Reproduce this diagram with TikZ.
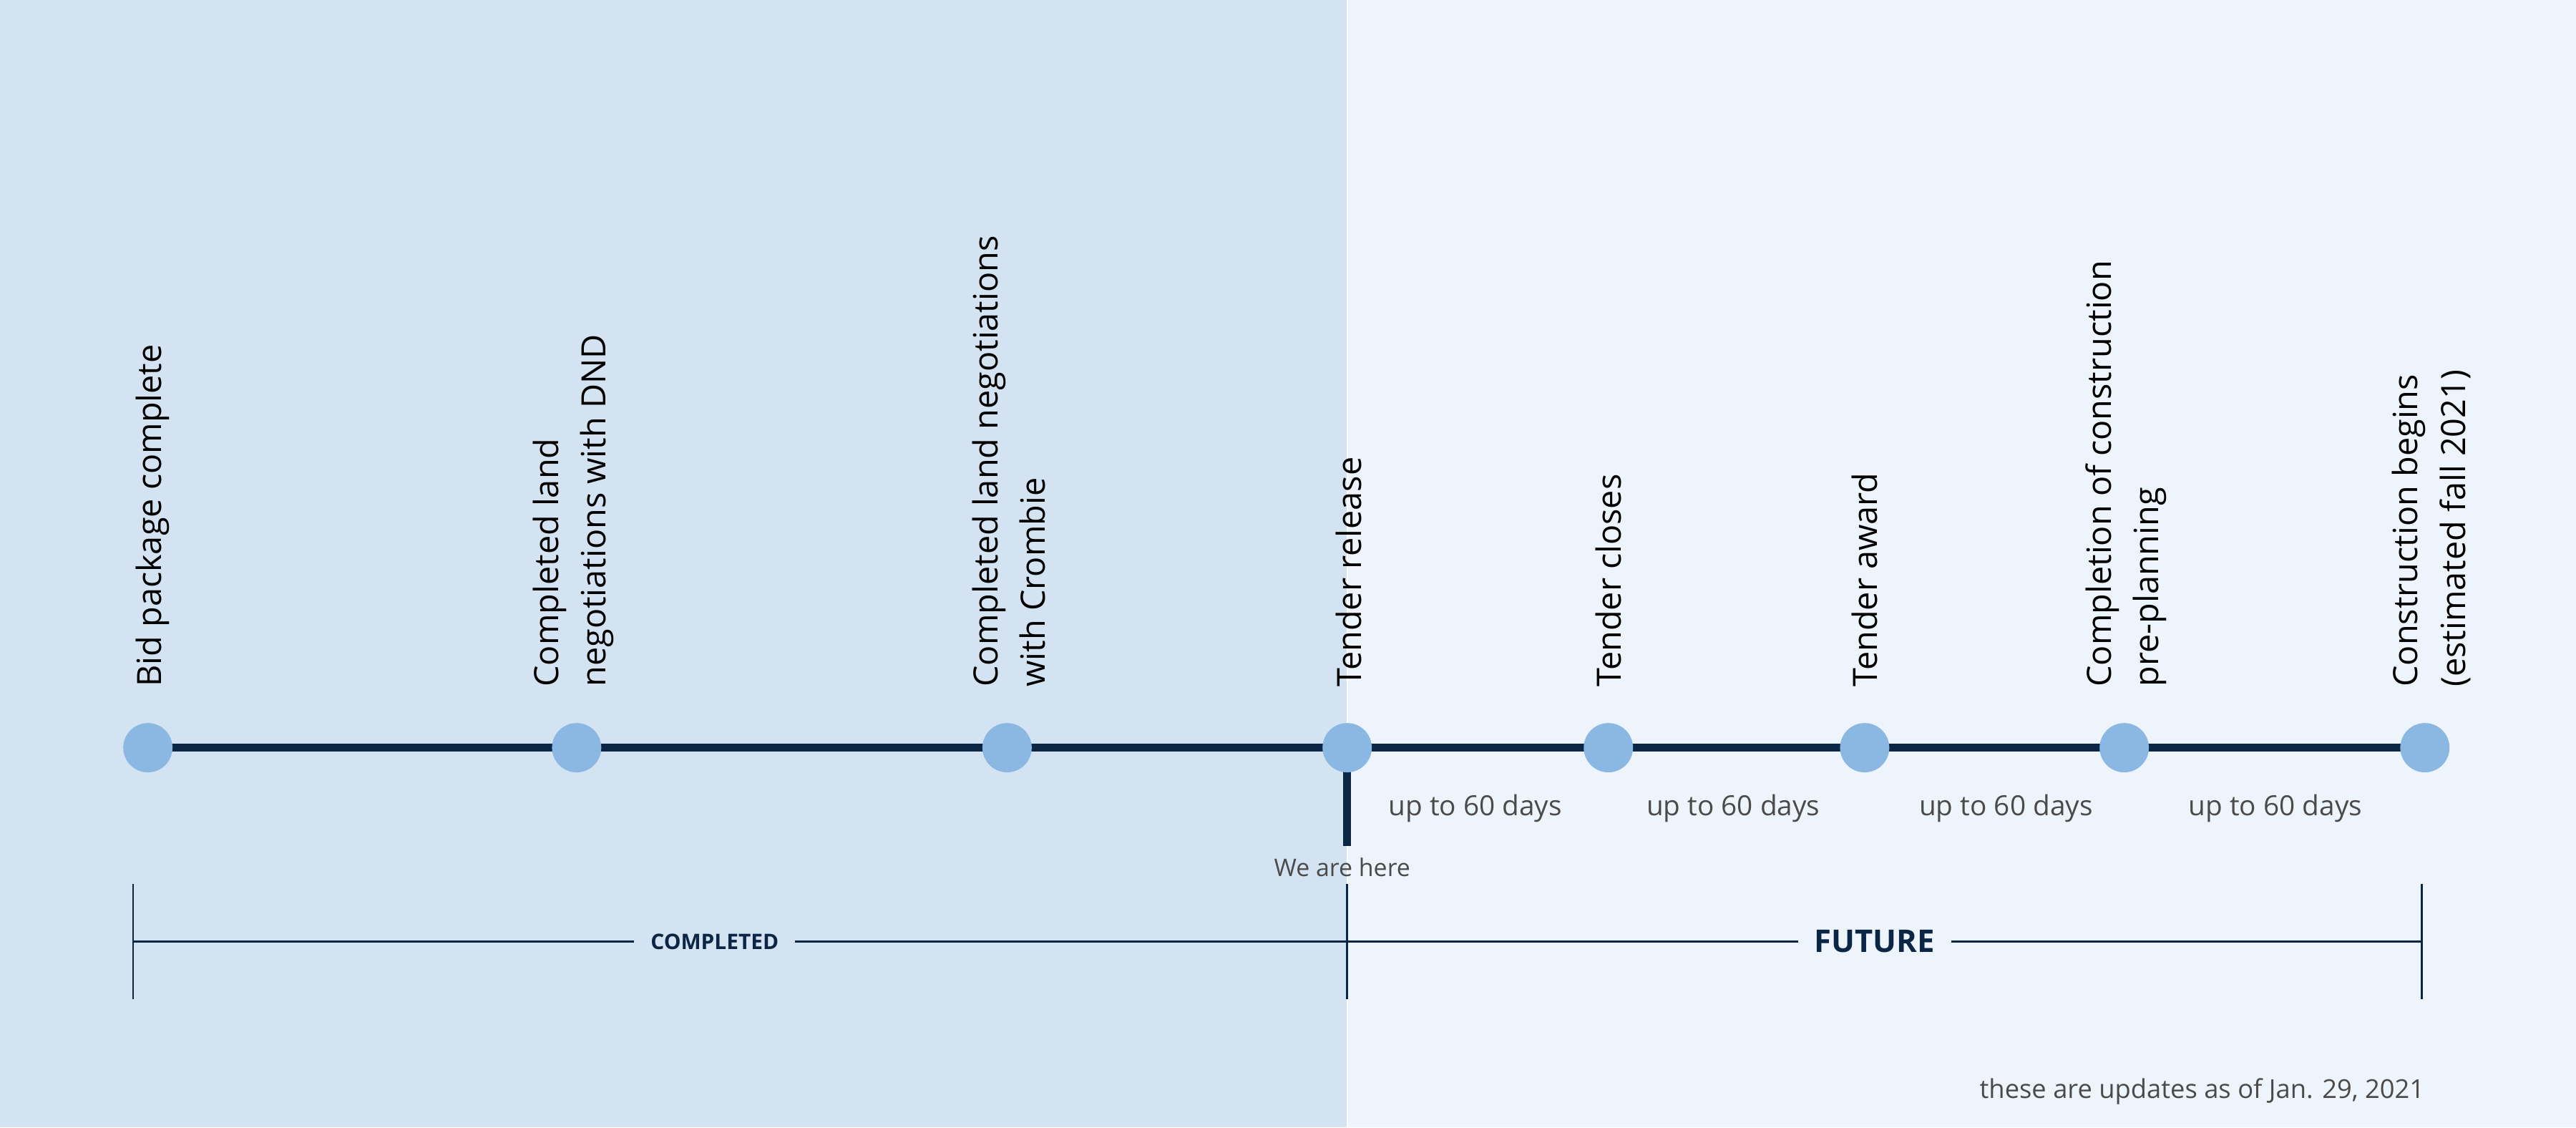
\documentclass[tikz,border=0pt]{standalone}
\usepackage{fontspec}
\setmainfont{Open Sans}
\definecolor{navy}{HTML}{0B2545}
\definecolor{dot}{HTML}{8AB8E3}
\definecolor{bgl}{HTML}{D3E3F2}
\definecolor{bgr}{HTML}{EEF4FB}
\definecolor{txt}{HTML}{4A4A4A}
\tikzset{
 ev/.style={rotate=90,anchor=west,align=left,font=\fontsize{58}{82}\selectfont,text=black,inner sep=0pt},
 dotn/.style={circle,fill=dot,minimum size=30mm,inner sep=0pt},
 dur/.style={font=\fontsize{48}{56}\selectfont,text=txt},
 tl/.style={navy,line width=5mm},
 br/.style={navy,line width=1.2mm}
}
\begin{document}
\begin{tikzpicture}[x=1mm,y=-1mm]
\useasboundingbox (0,0) rectangle (1568,686);
\fill[bgl] (0,0) rectangle (820,686);
\fill[bgr] (820,0) rectangle (1568,686);
\draw[white,line width=1mm] (820,0) -- (820,686);
\coordinate (s) at (90,455); \coordinate (e) at (1476,455);
\coordinate (h0) at (820,455); \coordinate (h1) at (820,515);
\draw[tl] (s) -- (e);
\draw[tl] (h0) -- (h1);
\foreach \x/\n in {90/a,351/b,613/c,820/d,979/f,1135/g,1293/h,1476/i}
  \node[dotn] (\n) at (\x,455) {};
\node[ev] at (93,418) {Bid package complete};
\node[ev] at (349,418) {Completed land\\negotiations with DND};
\node[ev] at (614,418) {Completed land negotiations\\with Crombie};
\node[ev] at (821,418) {Tender release};
\node[ev] at (979,418) {Tender closes};
\node[ev] at (1135,418) {Tender award};
\node[ev] at (1294,418) {Completion of construction\\pre-planning};
\node[ev] at (1480,418) {Construction begins\\(estimated fall 2021)};
\node[dur] at (898,492) {up to 60 days};
\node[dur] at (1055,492) {up to 60 days};
\node[dur] at (1221,492) {up to 60 days};
\node[dur] at (1385,492) {up to 60 days};
\node[font=\fontsize{42}{50}\selectfont,text=txt] (here) at (817,528) {We are here};
\coordinate (l0) at (81,538); \coordinate (l1) at (81,608);
\coordinate (m0) at (820,538); \coordinate (m1) at (820,608);
\coordinate (r0) at (1474,538); \coordinate (r1) at (1474,608);
\coordinate (bl) at (81,573); \coordinate (br) at (1474,573);
\draw[br] (l0) -- (l1); \draw[br] (m0) -- (m1); \draw[br] (r0) -- (r1);
\draw[br] (bl) -- (br);
\node[fill=bgl,text=navy,font=\bfseries\fontsize{37}{44}\selectfont,inner xsep=10mm] at (435,573) {COMPLETED};
\node[fill=bgr,text=navy,font=\bfseries\fontsize{54}{62}\selectfont,inner xsep=10mm] at (1141,573) {FUTURE};
\node[anchor=east,font=\fontsize{45}{52}\selectfont,text=txt] at (1477,664) {these are updates as of Jan. 29, 2021};
\end{tikzpicture}
\end{document}
